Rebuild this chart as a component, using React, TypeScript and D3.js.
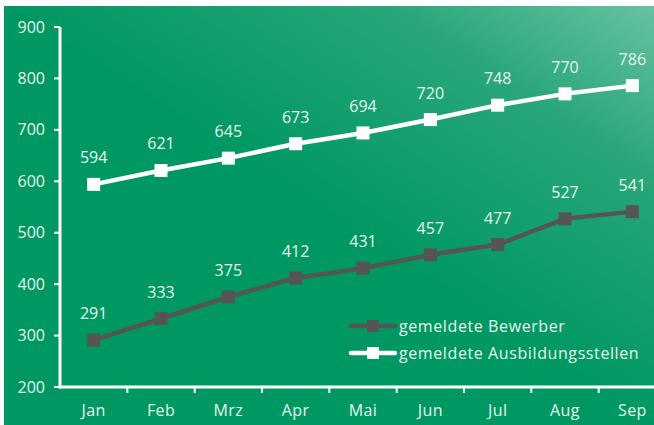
import React from "react";
import * as d3 from "d3";

const months = ["Jan", "Feb", "Mrz", "Apr", "Mai", "Jun", "Jul", "Aug", "Sep"];
const bewerber = [291, 333, 375, 412, 431, 457, 477, 527, 541];
const stellen = [594, 621, 645, 673, 694, 720, 748, 770, 786];
const yTicks = [200, 300, 400, 500, 600, 700, 800, 900];
const seriesNames = ["gemeldete Bewerber", "gemeldete Ausbildungsstellen"];

const W = 654;
const H = 425;
const font = "'Open Sans', 'Noto Sans', sans-serif";
const txt = "#e6f4ec";

export default function App() {
  const x = d3.scaleBand<string>().domain(months).range([60, 666]);
  const y = d3.scaleLinear().domain([200, 900]).range([387, 27]);
  const cx = (m: string) => (x(m) as number) + x.bandwidth() / 2;
  const line = d3
    .line<number>()
    .x((_, i) => cx(months[i]))
    .y((d) => y(d));
  const series = [
    { name: seriesNames[0], data: bewerber, color: "#555555" },
    { name: seriesNames[1], data: stellen, color: "#ffffff" },
  ];
  const ms = 13;
  return (
    <svg width={W} height={H} style={{ position: "absolute", left: 0, top: 0 }}>
      <defs>
        <linearGradient id="bg" x1="0" y1="1" x2="1" y2="0">
          <stop offset="0" stopColor="#009862" />
          <stop offset="0.5" stopColor="#009862" />
          <stop offset="0.8" stopColor="#2aa77a" />
          <stop offset="1" stopColor="#66c2a0" />
        </linearGradient>
      </defs>
      <rect x={0} y={0} width={W} height={H} fill="#ffffff" />
      <rect x={4} y={6} width={W - 4} height={H - 6} fill="url(#bg)" />
      <line x1={60} y1={y(900)} x2={60} y2={y(200) + 1.5} stroke="#fff" strokeWidth={3} />
      <line x1={58.5} y1={y(200)} x2={W} y2={y(200)} stroke="#fff" strokeWidth={3} />
      {yTicks.map((t) => (
        <g key={t}>
          <line x1={54} x2={60} y1={y(t)} y2={y(t)} stroke="#fff" strokeWidth={2} />
          <text x={45} y={y(t)} dy="0.35em" textAnchor="end" fill={txt} fontFamily={font} fontSize={16}>
            {t}
          </text>
        </g>
      ))}
      {months.map((m, i) => (
        <g key={m}>
          {i > 0 && (
            <line x1={x(m)} x2={x(m)} y1={y(200)} y2={y(200) + 6} stroke="#fff" strokeWidth={2} />
          )}
          <text x={cx(m)} y={416} textAnchor="middle" fill={txt} fontFamily={font} fontSize={16} letterSpacing={0.4}>
            {m}
          </text>
        </g>
      ))}
      {series.map((s) => (
        <g key={s.name}>
          <path d={line(s.data) || ""} fill="none" stroke={s.color} strokeWidth={4.5} strokeLinejoin="round" />
          {s.data.map((v, i) => (
            <g key={i}>
              <rect x={cx(months[i]) - ms / 2} y={y(v) - ms / 2} width={ms} height={ms} fill={s.color} />
              <text x={cx(months[i])} y={y(v) - 21} textAnchor="middle" fill={txt} fontFamily={font} fontSize={16}>
                {v}
              </text>
            </g>
          ))}
        </g>
      ))}
      {series.map((s, i) => {
        const ly = 326 + i * 27;
        return (
          <g key={s.name}>
            <line x1={351} x2={395} y1={ly} y2={ly} stroke={s.color} strokeWidth={4.5} strokeLinecap="round" />
            <rect x={373 - 6} y={ly - 6} width={12} height={12} fill={s.color} />
            <text x={399} y={ly} dy="0.35em" fill={txt} fontFamily={font} fontSize={16} letterSpacing={0.6}>
              {s.name}
            </text>
          </g>
        );
      })}
    </svg>
  );
}
